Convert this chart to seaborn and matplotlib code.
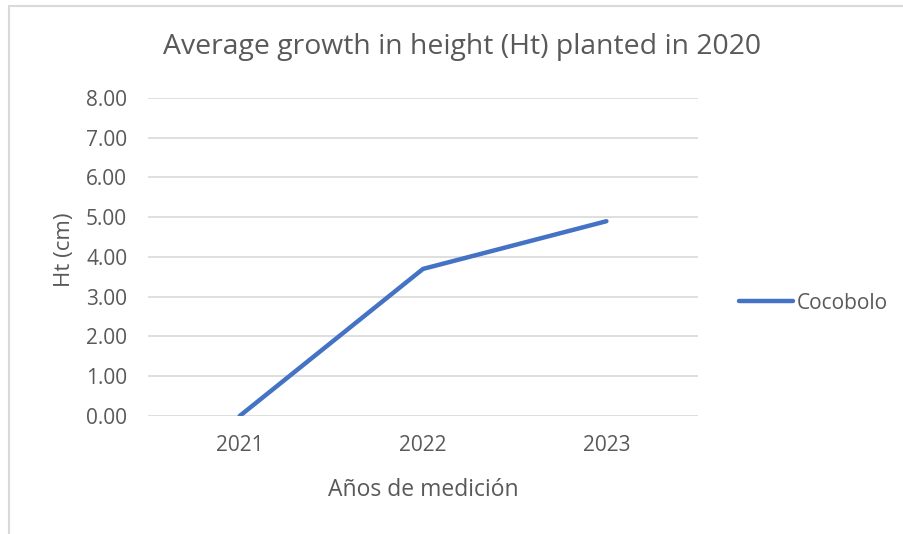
import pandas as pd
import numpy as np

import matplotlib
matplotlib.use('Agg')
import matplotlib.pyplot as plt
import seaborn as sns

# data
years = ['2021', '2022', '2023']
height_cm = [0.00, 3.70, 4.90]
species = 'Cocobolo'
y_ticks = [0, 1, 2, 3, 4, 5, 6, 7, 8]

df = pd.DataFrame({'year': years, 'height': height_cm, 'species': species})

sns.set_theme(style='white')
plt.rcParams['font.family'] = ['Open Sans', 'DejaVu Sans']
text_col = '#595959'

fig = plt.figure(figsize=(9.04, 5.34), dpi=100)
ax = fig.add_axes([0.1637, 0.221, 0.6085, 0.5955])

sns.lineplot(data=df, x='year', y='height', hue='species', palette=['#4472C4'],
             linewidth=3.2, ax=ax, sort=False)
ax.lines[0].set_solid_capstyle('round')

ax.set_xlim(-0.5, 2.5)
ax.set_ylim(0, 8)
ax.set_yticks(y_ticks)
ax.set_yticklabels([f'{v:.2f}' for v in y_ticks])
ax.yaxis.grid(True, color='#D9D9D9', linewidth=1.2)
ax.set_axisbelow(True)
for s in ax.spines.values():
    s.set_visible(False)
ax.tick_params(axis='both', length=0, labelsize=15, colors=text_col)
ax.tick_params(axis='y', pad=15)
ax.tick_params(axis='x', pad=14)

ax.set_xlabel('Años de medición', fontsize=16.5, color=text_col, labelpad=15.5)
ax.set_ylabel('Ht (cm)', fontsize=16, color=text_col, labelpad=8)
ax.yaxis.label.set_y(0.522)
fig.text(462 / 904, 1 - 47 / 534, 'Average growth in height (Ht) planted in 2020',
         fontsize=20.4, color=text_col, ha='center', va='center')

leg = ax.legend(loc='center left', bbox_to_anchor=(1.04, 0.355), frameon=False,
                fontsize=15, handlelength=2.6, handletextpad=0.2)
for t in leg.get_texts():
    t.set_color(text_col)

# light chart-area border like the spreadsheet export
border = plt.Rectangle((9 / 904, -0.1), 1.2, 1 - 6 / 534 + 0.1, transform=fig.transFigure,
                       fill=False, edgecolor='#D9D9D9', linewidth=1.5)
fig.patches.append(border)

fig.savefig('out.png', dpi=100)
